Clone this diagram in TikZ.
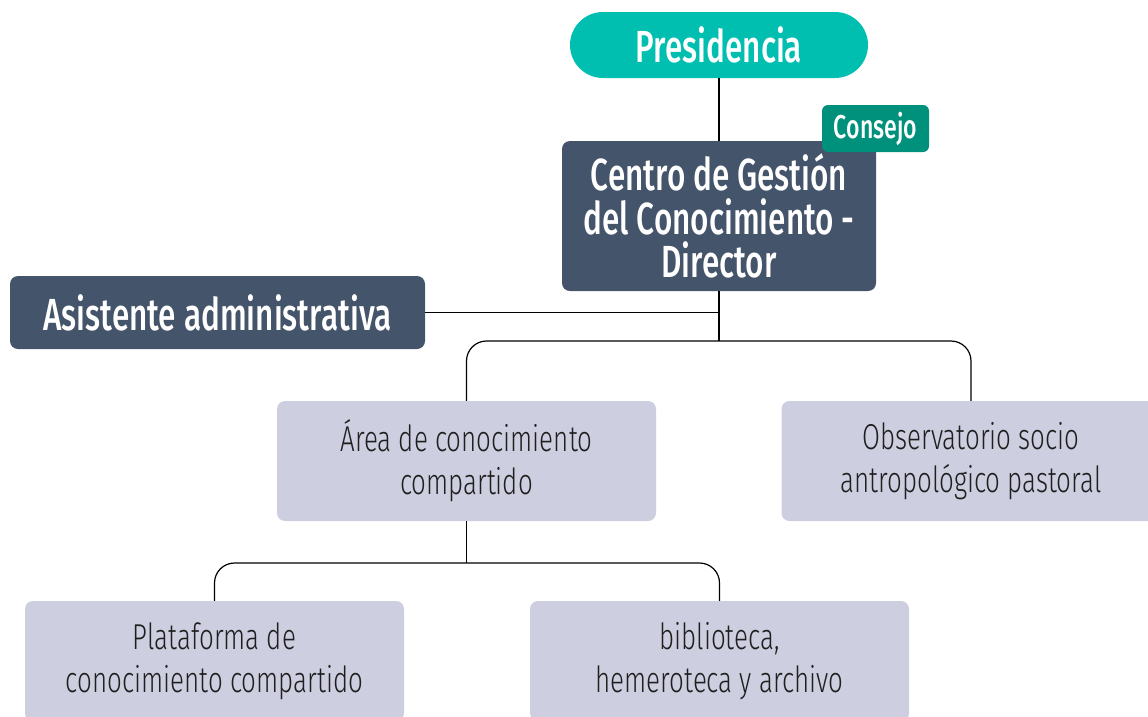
\documentclass[tikz,border=0pt]{standalone}
\usepackage{fontspec}
\setmainfont{Fira Sans}[UprightFont=* Medium,FakeStretch=0.7]
\newfontfamily\lightfont{Fira Sans}[UprightFont=* Light,FakeStretch=0.72]
\usepackage{tikz}
\usetikzlibrary{positioning}
\usetikzlibrary{calc}
\definecolor{presteal}{HTML}{00BFB0}
\definecolor{tagteal}{HTML}{00917C}
\definecolor{slate}{HTML}{44546A}
\definecolor{lilac}{HTML}{CDCEDF}
\newcommand{\unitnode}[3]{\node(#1)[unit] at (#2) {#3}}

\begin{document}
\begin{tikzpicture}[
        x=1pt,y=-1pt,
        head/.style={rectangle,fill=slate,text=white,align=center,
                     rounded corners=8pt,font=\fontsize{45}{43.5}\selectfont},
        unit/.style={rectangle,fill=lilac,text=black!88,align=center,
                     minimum width=379pt,minimum height=120pt,rounded corners=8pt,
                     font=\lightfont\fontsize{36}{43}\selectfont},
        tag/.style={rectangle,fill=tagteal,text=white,rounded corners=6pt,
                    minimum width=107pt,minimum height=47pt,
                    font=\fontsize{33}{33}\selectfont},
        link/.style={draw=black,line width=1.2pt},
        bus/.style={link,rounded corners=20pt}
      ]
      \useasboundingbox (0,0) rectangle (1148,716);
      \node(pres)[head,fill=presteal,minimum width=298pt,minimum height=66pt,
                  rounded corners=33pt] at (719,45) {Presidencia};
      \node(dir)[head,minimum width=314pt,minimum height=150pt] at (719,216)
        {\rule{0pt}{6pt}Centro de Gestión\\del Conocimiento -\\Director};
      \node(consejo)[tag] at (875.5,128.5) {Consejo};
      \node(asist)[head,minimum width=415pt,minimum height=73pt] at (217.5,312.5)
        {Asistente administrativa};
      \unitnode{area}{466.5,461}{Área de conocimiento\\compartido};
      \unitnode{obs}{971,461}{Observatorio socio\\antropológico pastoral};
      \unitnode{plat}{214.5,661}{Plataforma de\\conocimiento compartido};
      \unitnode{bib}{719.5,661}{biblioteca,\\hemeroteca y archivo};
      \coordinate (bus1) at (719,341);
      \coordinate (bus2) at (466.5,563);
      \draw[link] (pres) -- (dir);
      \draw[link] (dir) -- (bus1);
      \draw[link] (asist.east) -- (asist.east -| dir.south);
      \draw[bus] (area.north) |- (bus1) -| (obs.north);
      \draw[link] (area) -- (bus2);
      \draw[bus] (plat.north) |- (bus2) -| (bib.north);
    \end{tikzpicture}
\end{document}
